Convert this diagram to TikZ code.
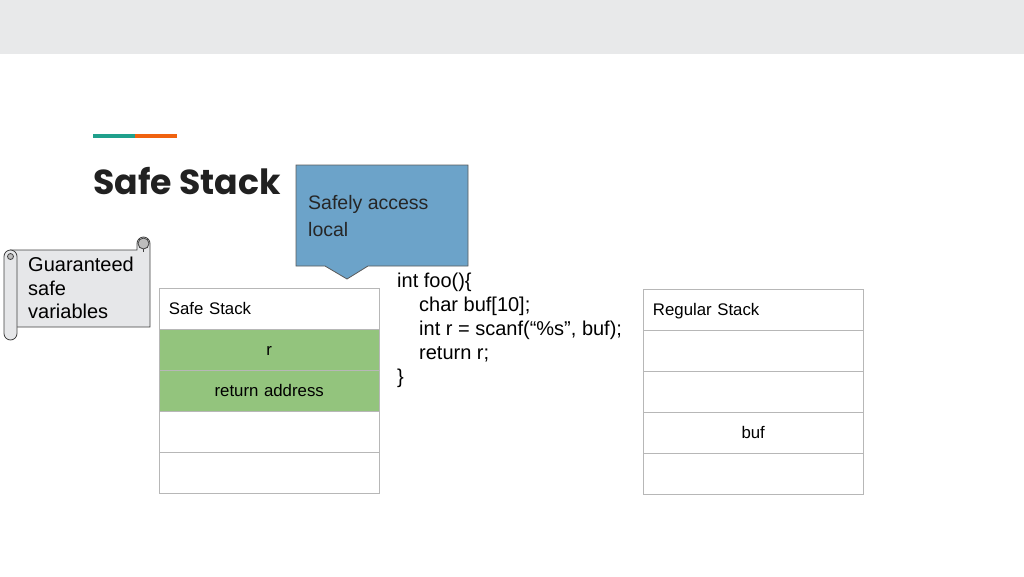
\documentclass[tikz,border=0pt]{standalone}
\usepackage{fontspec}
\setmainfont{Liberation Sans}
\newfontfamily\titlefont{Poppins}
\definecolor{topbar}{HTML}{E8E9EA}
\definecolor{teal}{HTML}{1FA08C}
\definecolor{orangeacc}{HTML}{F0620F}
\definecolor{titlecol}{HTML}{212121}
\definecolor{callblue}{HTML}{6CA3C9}
\definecolor{calledge}{HTML}{5A5A5A}
\definecolor{scrollfill}{HTML}{E6E7E9}
\definecolor{scrolldark}{HTML}{BDBDBD}
\definecolor{cellgray}{HTML}{B7B7B7}
\definecolor{greencell}{HTML}{93C47D}
\begin{document}
\begin{tikzpicture}[x=1pt,y=-1pt,
  cell/.style={draw=cellgray, line width=0.9pt, minimum width=220.5pt, minimum height=41pt,
    inner sep=0pt, anchor=north west, text height=12pt, text depth=0pt,
    font=\fontsize{16.8}{19}\selectfont, text=black},
  headcell/.style={cell, align=left, text width=200.5pt, inner xsep=10pt},
  midcell/.style={cell, align=center, text width=220.5pt},
  greenc/.style={fill=greencell},
  linetext/.style={anchor=base west, inner sep=0pt, text=black, font=\fontsize{20}{24}\selectfont}]
\useasboundingbox (0,0) rectangle (1024,576);
% top bar
\fill[topbar] (0,0) rectangle (1024,54);
% accent
\fill[teal] (93,133.5) rectangle (135,138);
\fill[orangeacc] (135,133.5) rectangle (176.5,138);
% title
\node[anchor=base west, inner sep=0pt, text=titlecol, font=\titlefont\bfseries\fontsize{34.7}{40}\selectfont] (title) at (93,194) {Safe Stack};
% callout
\draw[fill=callblue, draw=calledge, line width=0.8pt] (296,165) -- (468,165) -- (468,266) -- (368,266) -- (347,279) -- (325,266) -- (296,266) -- cycle;
\node[anchor=base west, inner sep=0pt, font=\fontsize{19.5}{26.7}\selectfont, text=black!85] (calltext) at (308,209.3) {Safely access};
\node[anchor=base west, inner sep=0pt, font=\fontsize{19.5}{26.7}\selectfont, text=black!85] (calltext2) at (308,236) {local};
% scroll
\draw[fill=scrollfill, draw=black!75, line width=0.8pt] (10.5,250) -- (137,250) -- (137,243.5)
  arc[start angle=180, end angle=360, radius=6.5] -- (150,327) -- (10.5,327) -- cycle;
\draw[fill=scrolldark, draw=black!75, line width=0.8pt] (143.5,243.5) circle[radius=5.5];
\draw[draw=black!75, line width=0.8pt] (143.5,249) -- (143.5,252);
\draw[fill=scrollfill, draw=black!75, line width=0.8pt] (4,256.5)
  arc[start angle=180, end angle=360, radius=6.5] -- (17,333.5)
  arc[start angle=0, end angle=180, radius=6.5] -- cycle;
\draw[draw=black!75, line width=0.8pt, fill=scrolldark] (10.5,256.5) circle[radius=3];
\node[linetext] (g1) at (28,271.7) {Guaranteed};
\node[linetext] (g2) at (28,295) {safe};
\node[linetext] (g3) at (28,318.3) {variables};
% code
\node[linetext] (c1) at (397,287) {int foo()\{};
\node[linetext] (c2) at (419,311) {char buf[10];};
\node[linetext] (c3) at (419,335) {int r = scanf(“\%s”, buf);};
\node[linetext] (c4) at (419,359) {return r;};
\node[linetext] (c5) at (397,383) {\}};
% safe stack
\node[headcell] (s0) at (158.5,287.5) {Safe Stack};
\node[midcell, greenc] (s1) at (158.5,328.5) {r};
\node[midcell, greenc] (s2) at (158.5,369.5) {return address};
\node[midcell] (s3) at (158.5,410.5) {};
\node[midcell] (s4) at (158.5,451.5) {};
% regular stack
\node[headcell] (r0) at (642.5,288.5) {Regular Stack};
\node[midcell] (r1) at (642.5,329.5) {};
\node[midcell] (r2) at (642.5,370.5) {};
\node[midcell] (r3) at (642.5,411.5) {buf};
\node[midcell] (r4) at (642.5,452.5) {};
\end{tikzpicture}
\end{document}
